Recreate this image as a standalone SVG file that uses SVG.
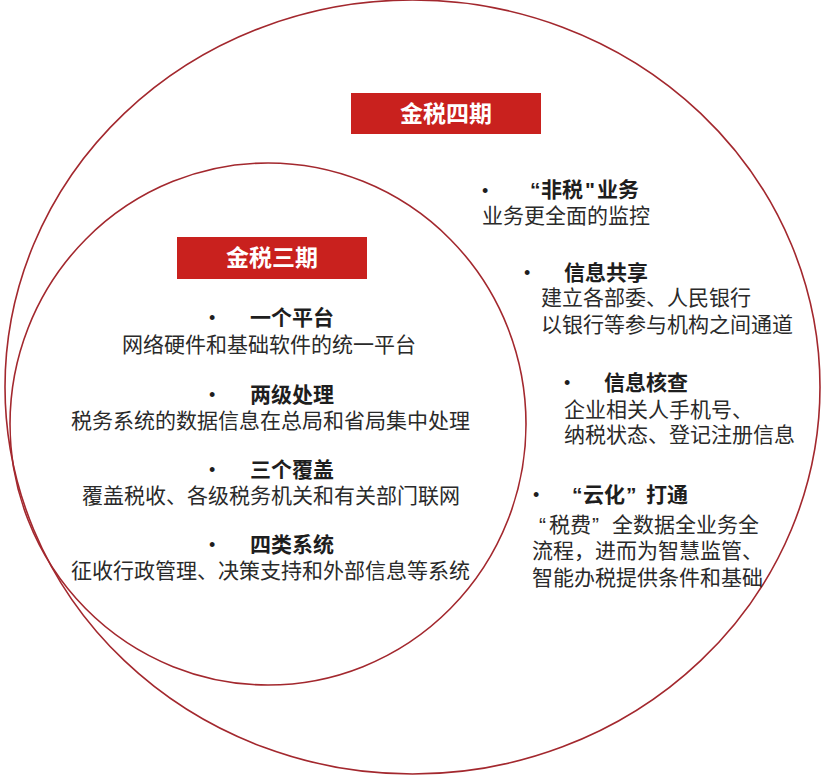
<svg xmlns="http://www.w3.org/2000/svg" width="828" height="776" viewBox="0 0 828 776">
<style>
.ring{fill:none;stroke:#a3282e;stroke-width:1.6}
.box{fill:#c9211e}
.hd{font-family:"Noto Sans CJK SC","Liberation Sans",sans-serif;font-weight:700;font-size:23px;fill:#ffffff;text-anchor:middle}
.it{font-family:"Liberation Sans","Noto Sans CJK SC",sans-serif;font-size:21px;fill:#2a2a2a}
.t{font-weight:700;fill:#1e1e1e}
.b{font-family:"Liberation Sans",sans-serif;font-size:18px;fill:#1e1e1e}
</style>
<rect width="828" height="776" fill="#ffffff"/>
<g id="phase4">
<ellipse class="ring" cx="412.5" cy="387" rx="407.5" ry="387"/>
<rect class="box" x="351" y="93" width="190" height="41"/>
<text class="hd" x="446" y="122">金税四期</text>
</g>
<g id="phase3">
<ellipse class="ring" cx="268" cy="424" rx="258" ry="261"/>
<rect class="box" x="177" y="237" width="190" height="42"/>
<text class="hd" x="272" y="266">金税三期</text>
</g>
<g id="item-platform">
<text class="it"><tspan class="b" x="209" y="324">•</tspan><tspan class="t" x="250" y="325">一个平台</tspan><tspan x="122" y="352">网络硬件和基础软件的统一平台</tspan></text>
</g>
<g id="item-twolevel">
<text class="it"><tspan class="b" x="209" y="401">•</tspan><tspan class="t" x="250" y="402">两级处理</tspan><tspan x="71" y="428">税务系统的数据信息在总局和省局集中处理</tspan></text>
</g>
<g id="item-cover">
<text class="it"><tspan class="b" x="209" y="476">•</tspan><tspan class="t" x="250" y="477">三个覆盖</tspan><tspan x="82" y="503">覆盖税收、各级税务机关和有关部门联网</tspan></text>
</g>
<g id="item-systems">
<text class="it"><tspan class="b" x="209" y="551">•</tspan><tspan class="t" x="250" y="552">四类系统</tspan><tspan x="71" y="578">征收行政管理、决策支持和外部信息等系统</tspan></text>
</g>
<g id="item-nontax">
<text class="it"><tspan class="b" x="482" y="197">•</tspan><tspan class="t" x="530" y="197">“</tspan><tspan class="t" x="541" y="197">非税</tspan><tspan class="t" x="585" y="197">"</tspan><tspan class="t" x="597" y="197">业务</tspan><tspan x="482" y="223">业务更全面的监控</tspan></text>
</g>
<g id="item-share">
<text class="it"><tspan class="b" x="524" y="279">•</tspan><tspan class="t" x="564" y="280">信息共享</tspan><tspan x="541" y="305">建立各部委、人民银行</tspan><tspan x="541" y="332">以银行等参与机构之间通道</tspan></text>
</g>
<g id="item-verify">
<text class="it"><tspan class="b" x="564" y="389">•</tspan><tspan class="t" x="604" y="390">信息核查</tspan><tspan x="564" y="417">企业相关人手机号、</tspan><tspan x="564" y="442">纳税状态、登记注册信息</tspan></text>
</g>
<g id="item-cloud">
<text class="it"><tspan class="b" x="533" y="501">•</tspan><tspan class="t" x="572" y="502">“</tspan><tspan class="t" x="583" y="502">云化</tspan><tspan class="t" x="626" y="502">”</tspan><tspan class="t" x="646" y="502">打通</tspan><tspan x="539" y="532">“</tspan><tspan x="549" y="532">税费</tspan><tspan x="592" y="532">”</tspan><tspan x="612" y="532">全数据全业务全</tspan><tspan x="532" y="558">流程，进而为智慧监管、</tspan><tspan x="532" y="585">智能办税提供条件和基础</tspan></text>
</g>
<g id="connectors"/>
</svg>
